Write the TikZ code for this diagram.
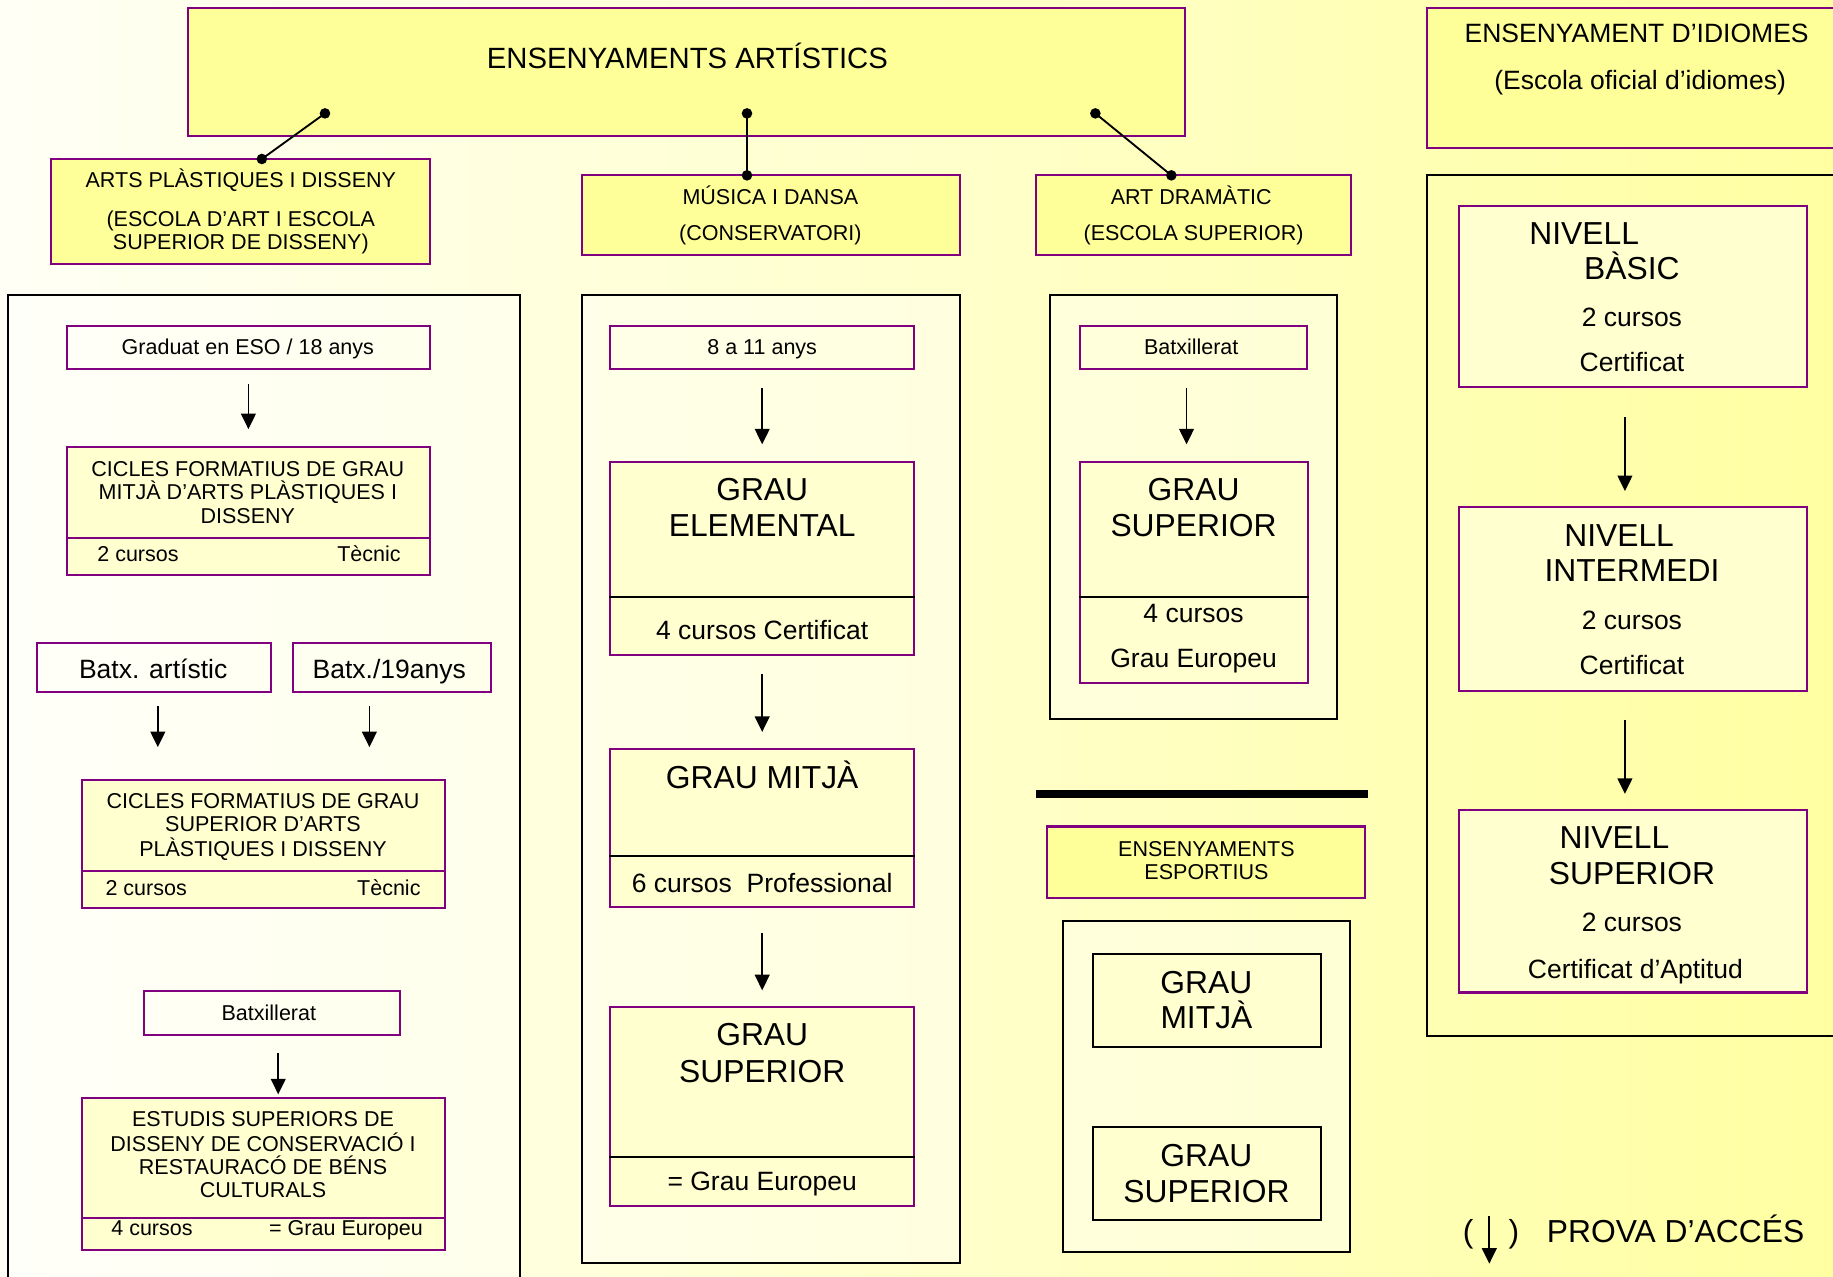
\documentclass[tikz,border=0pt]{standalone}
\usepackage{fontspec}
\setmainfont{Liberation Sans}
\usetikzlibrary{fit,calc,arrows.meta}
\definecolor{bgL}{HTML}{FFFFF6}
\definecolor{bgR}{HTML}{FFFFA2}
\definecolor{ylw}{HTML}{FFFF99}
\definecolor{pale}{HTML}{FFFFD0}
\definecolor{purp}{HTML}{800080}
\newcommand\fS{\fontsize{13.8}{15.5}\selectfont}
\newcommand\fM{\fontsize{17}{20}\selectfont}
\newcommand\fL{\fontsize{20.4}{23}\selectfont}
\newcommand\fT{\fontsize{18.8}{22}\selectfont}
\newcommand\bx[6]{\node[#1, fit={(#3,#4) (#5,#6)}] (#2) {};}
\newcommand\tx[5]{\node[#1] (#2) at (#3,#4) {#5};}
\begin{document}
\begin{tikzpicture}[x=0.75pt,y=-0.75pt,
  box/.style={draw=purp, line width=1.3pt, inner sep=0pt, rectangle},
  ybox/.style={box, fill=ylw},
  pbox/.style={box, fill=pale},
  obox/.style={box},
  frame/.style={draw=black, line width=1.3pt, inner sep=0pt, rectangle, fill=white, fill opacity=0.4},
  nframe/.style={draw=black, line width=1.3pt, inner sep=0pt, rectangle},
  kbox/.style={draw=black, line width=1.3pt, inner sep=0pt, rectangle, fill=pale},
  bar/.style={fill=black, inner sep=0pt, rectangle},
  ts/.style={font=\fS, inner sep=0pt, anchor=base, yshift=-5pt},
  tm/.style={font=\fM, inner sep=0pt, anchor=base, yshift=-6.1pt},
  tl/.style={font=\fL, inner sep=0pt, anchor=base, yshift=-7.3pt},
  tt/.style={font=\fT, inner sep=0pt, anchor=base, yshift=-6.7pt},
  arr/.style={line width=1.1pt, -{Triangle[width=9.5pt,length=10pt]}},
  link/.style={line width=1.2pt},
  dot/.style={fill=black}
]
\useasboundingbox (0,0) rectangle (1568,1092);
\clip (0,0) rectangle (1568,1092);
\shade[left color=bgL, right color=bgR] (0,0) rectangle (1568,1092);

% frames
\bx{frame}{frameL}{7}{252}{445}{1110}
\bx{frame}{frameM}{498}{252}{821}{1080}
\bx{frame}{frameD}{898}{252}{1144}{615}
\bx{frame}{frameE}{909}{788}{1155}{1071}
\bx{nframe}{frameI}{1221}{150}{1580}{886}

% top level boxes
\bx{ybox}{top}{161}{7}{1014}{116}
\bx{ybox}{arts}{44}{136}{368}{226}
\bx{ybox}{musica}{498}{150}{821}{218}
\bx{ybox}{drama}{886}{150}{1156}{218}
\bx{ybox}{idiomes}{1221}{7}{1580}{127}

\tx{tt}{ttop}{588}{50}{ENSENYAMENTS ARTÍSTICS}
\tx{ts}{tarts1}{206}{154}{ARTS PLÀSTIQUES I DISSENY}
\tx{ts}{tarts2}{206}{187}{(ESCOLA D’ART I ESCOLA}
\tx{ts}{tarts3}{206}{207}{SUPERIOR DE DISSENY)}
\tx{ts}{tmus1}{659}{168}{MÚSICA I DANSA}
\tx{ts}{tmus2}{659}{199}{(CONSERVATORI)}
\tx{ts}{tdra1}{1019}{168}{ART DRAMÀTIC}
\tx{ts}{tdra2}{1021}{199}{(ESCOLA SUPERIOR)}
\tx{tm}{tidi1}{1400}{28}{ENSENYAMENT D’IDIOMES}
\tx{tm}{tidi2}{1403}{68}{(Escola oficial d’idiomes)}

% links with dots
\coordinate (p1) at (278,97);
\coordinate (q1) at (224,136);
\coordinate (p2) at (639,97);
\coordinate (q2) at (639,150);
\coordinate (p3) at (937,97);
\coordinate (q3) at (1002,150);
\draw[link] (p1) -- (q1);
\draw[link] (p2) -- (q2);
\draw[link] (p3) -- (q3);
\foreach \p in {p1,q1,p2,q2,p3,q3} \fill[dot] (\p) circle (3.4pt);

% left column
\bx{obox}{graduat}{57}{279}{368}{316}
\tx{ts}{tgrad}{212}{297}{Graduat en ESO / 18 anys}
\bx{pbox}{cicm}{57}{382}{368}{492}
\draw[purp, line width=1.3pt] (cicm.west |- 0,460) -- (cicm.east |- 0,460);
\tx{ts}{tcm1}{212}{401}{CICLES FORMATIUS DE GRAU}
\tx{ts}{tcm2}{212}{421}{MITJÀ D’ARTS PLÀSTIQUES I}
\tx{ts}{tcm3}{212}{441}{DISSENY}
\tx{ts,anchor=base west}{tcm4}{83}{474}{2 cursos}
\tx{ts,anchor=base east}{tcm5}{343}{474}{Tècnic}

\bx{obox}{batxa}{32}{550}{232}{592}
\bx{obox}{batx19}{251}{550}{420}{592}
\tx{tm}{tbxa}{131}{572}{Batx. artístic}
\tx{tm}{tbx19}{333}{572}{Batx./19anys}

\bx{pbox}{cics}{70}{667}{381}{777}
\draw[purp, line width=1.3pt] (cics.west |- 0,745) -- (cics.east |- 0,745);
\tx{ts}{tcs1}{225}{685}{CICLES FORMATIUS DE GRAU}
\tx{ts}{tcs2}{225}{705}{SUPERIOR D’ARTS}
\tx{ts}{tcs3}{225}{726}{PLÀSTIQUES I DISSENY}
\tx{ts,anchor=base west}{tcs4}{90}{759}{2 cursos}
\tx{ts,anchor=base east}{tcs5}{360}{759}{Tècnic}

\bx{obox}{batxL}{123}{848}{342}{885}
\tx{ts}{tbxl}{230}{866}{Batxillerat}

\bx{pbox}{estudis}{70}{939}{381}{1069}
\draw[purp, line width=1.3pt] (estudis.west |- 0,1042) -- (estudis.east |- 0,1042);
\tx{ts}{tes1}{225}{957}{ESTUDIS SUPERIORS DE}
\tx{ts}{tes2}{225}{978}{DISSENY DE CONSERVACIÓ I}
\tx{ts}{tes3}{225}{998}{RESTAURACÓ DE BÉNS}
\tx{ts}{tes4}{225}{1018}{CULTURALS}
\tx{ts,anchor=base west}{tes5}{95}{1050}{4 cursos}
\tx{ts,anchor=base east}{tes6}{362}{1050}{= Grau Europeu}

% middle column
\bx{obox}{anys}{522}{279}{782}{316}
\tx{ts}{tanys}{652}{297}{8 a 11 anys}
\bx{pbox}{gelem}{522}{395}{782}{560}
\draw[black, line width=1.3pt] (gelem.west |- 0,511) -- (gelem.east |- 0,511);
\tx{tl}{tge1}{652}{418}{GRAU}
\tx{tl}{tge2}{652}{449}{ELEMENTAL}
\tx{tm}{tge3}{652}{539}{4 cursos Certificat}
\bx{pbox}{gmitja}{522}{641}{782}{776}
\draw[black, line width=1.3pt] (gmitja.west |- 0,732) -- (gmitja.east |- 0,732);
\tx{tl}{tgm1}{652}{665}{GRAU MITJÀ}
\tx{tm}{tgm2}{652}{755}{6 cursos\ \ Professional}
\bx{pbox}{gsup}{522}{861}{782}{1032}
\draw[black, line width=1.3pt] (gsup.west |- 0,990) -- (gsup.east |- 0,990);
\tx{tl}{tgs1}{652}{885}{GRAU}
\tx{tl}{tgs2}{652}{916}{SUPERIOR}
\tx{tm}{tgs3}{652}{1010}{= Grau Europeu}

% drama column
\bx{obox}{batxD}{924}{279}{1118}{316}
\tx{ts}{tbxd}{1019}{297}{Batxillerat}
\bx{pbox}{gsupD}{924}{395}{1119}{584}
\draw[black, line width=1.3pt] (gsupD.west |- 0,511) -- (gsupD.east |- 0,511);
\tx{tl}{tgd1}{1021}{418}{GRAU}
\tx{tl}{tgd2}{1021}{449}{SUPERIOR}
\tx{tm}{tgd3}{1021}{524}{4 cursos}
\tx{tm}{tgd4}{1021}{563}{Grau Europeu}

% esportius
\bx{bar}{sep}{886}{676}{1170}{683}
\bx{ybox}{esport}{896}{707}{1168}{768}
\tx{ts}{tesp1}{1032}{726}{ENSENYAMENTS}
\tx{ts}{tesp2}{1032}{746}{ESPORTIUS}
\bx{kbox}{emitja}{935}{816}{1130}{896}
\tx{tl}{tem1}{1032}{840}{GRAU}
\tx{tl}{tem2}{1032}{870}{MITJÀ}
\bx{kbox}{esup}{935}{964}{1130}{1044}
\tx{tl}{tesu1}{1032}{988}{GRAU}
\tx{tl}{tesu2}{1032}{1019}{SUPERIOR}

% idiomes
\bx{pbox}{nbasic}{1248}{176}{1546}{331}
\tx{tl,anchor=base west}{tnb1}{1308}{199}{NIVELL}
\tx{tl}{tnb2}{1396}{229}{BÀSIC}
\tx{tm}{tnb3}{1396}{271}{2 cursos}
\tx{tm}{tnb4}{1396}{310}{Certificat}
\bx{pbox}{ninter}{1248}{434}{1546}{591}
\tx{tl}{tni1}{1385}{458}{NIVELL}
\tx{tl}{tni2}{1396}{488}{INTERMEDI}
\tx{tm}{tni3}{1396}{530}{2 cursos}
\tx{tm}{tni4}{1396}{569}{Certificat}
\bx{pbox}{nsup}{1248}{693}{1546}{849}
\tx{tl}{tns1}{1381}{716}{NIVELL}
\tx{tl}{tns2}{1396}{747}{SUPERIOR}
\tx{tm}{tns3}{1396}{789}{2 cursos}
\tx{tm}{tns4}{1399}{829}{Certificat d’Aptitud}

% legend
\tx{tl}{lgl}{1256}{1053}{(}
\tx{tl}{lgr}{1295}{1053}{)}
\tx{tl,anchor=base west}{lgt}{1323}{1053}{PROVA D’ACCÉS}
\coordinate (la) at (1274,1040);
\coordinate (lb) at (1274,1081);
\draw[arr] (la) -- (lb);

% arrows
\draw[arr] ($(graduat.south)+(0,12)$) -- ($(cicm.north)+(0,-14)$);
\coordinate (c2) at (cics.north -| batxa.south);
\coordinate (c3) at (cics.north -| batx19.south);
\draw[arr] ($(batxa.south)+(3,11)$) -- ($(c2)+(3,-27)$);
\draw[arr] ($(batx19.south)+(-19.5,11)$) -- ($(c3)+(-19.5,-27)$);
\coordinate (c4) at (estudis.north -| batxL.south);
\draw[arr] ($(batxL.south)+(5.5,15)$) -- ($(c4)+(5.5,-2)$);
\draw[arr] ($(anys.south)+(0,15)$) -- ($(gelem.north)+(0,-14)$);
\draw[arr] ($(gelem.south)+(0,16)$) -- ($(gmitja.north)+(0,-14)$);
\draw[arr] ($(gmitja.south)+(0,21)$) -- ($(gsup.north)+(0,-13)$);
\coordinate (c8) at (gsupD.north -| batxD.south);
\draw[arr] ($(batxD.south)+(-6,15)$) -- ($(c8)+(-6,-14)$);
\coordinate (c9) at (ninter.north -| nbasic.south);
\draw[arr] ($(nbasic.south)+(-7,25)$) -- ($(c9)+(-7,-13)$);
\coordinate (c10) at (nsup.north -| ninter.south);
\draw[arr] ($(ninter.south)+(-7,24)$) -- ($(c10)+(-7,-13)$);
\end{tikzpicture}
\end{document}
